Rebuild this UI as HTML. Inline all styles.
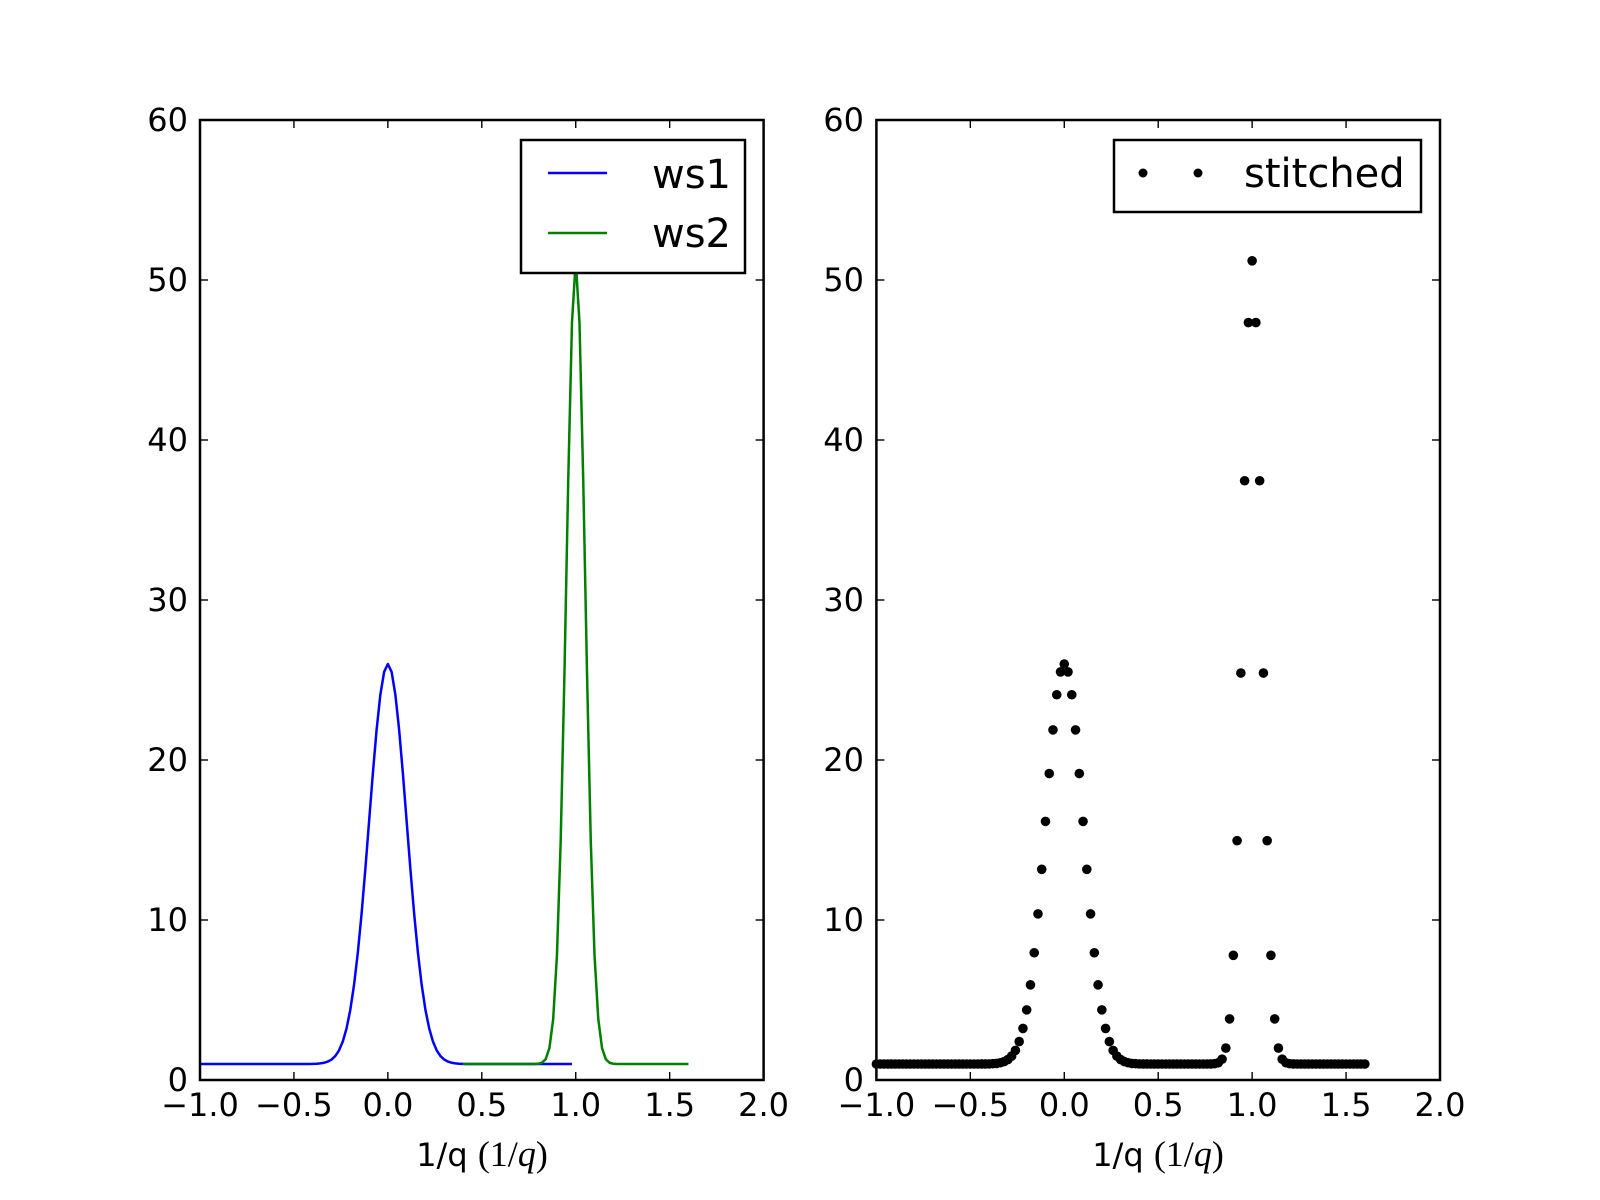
<!DOCTYPE html>
<html><head><meta charset="utf-8"><style>
html,body{margin:0;padding:0;background:#fff;}
svg{display:block;font-family:"DejaVu Sans","Liberation Sans",sans-serif;}
.t{font-size:32px;fill:#000;}
.l{font-size:40px;fill:#000;}
</style></head><body>
<svg id="s" width="1600" height="1200" viewBox="0 0 1600 1200" xmlns="http://www.w3.org/2000/svg">
<rect width="1600" height="1200" fill="#fff"/>
<g id="plots"></g>
<rect x="200" y="120" width="563.6" height="960" fill="none" stroke="#000" stroke-width="2.5"/>
<rect x="876.4" y="120" width="563.6" height="960" fill="none" stroke="#000" stroke-width="2.5"/>
<g id="ticks" stroke="#000" stroke-width="1.4"></g>
<g class="t" text-anchor="end">
<text x="188" y="1091">0</text><text x="188" y="931">10</text><text x="188" y="771">20</text><text x="188" y="611">30</text><text x="188" y="451">40</text><text x="188" y="291">50</text><text x="188" y="131">60</text>
<text x="864" y="1091">0</text><text x="864" y="931">10</text><text x="864" y="771">20</text><text x="864" y="611">30</text><text x="864" y="451">40</text><text x="864" y="291">50</text><text x="864" y="131">60</text>
</g>
<g class="t" text-anchor="middle">
<text x="200" y="1116">−1.0</text><text x="293.9" y="1116">−0.5</text><text x="387.9" y="1116">0.0</text><text x="481.8" y="1116">0.5</text><text x="575.7" y="1116">1.0</text><text x="669.7" y="1116">1.5</text><text x="763.6" y="1116">2.0</text>
<text x="876.4" y="1116">−1.0</text><text x="970.3" y="1116">−0.5</text><text x="1064.3" y="1116">0.0</text><text x="1158.2" y="1116">0.5</text><text x="1252.1" y="1116">1.0</text><text x="1346.1" y="1116">1.5</text><text x="1440" y="1116">2.0</text>
<text x="482" y="1166">1/q <tspan font-family="'Liberation Serif',serif" font-size="36">(1/<tspan font-style="italic">q</tspan>)</tspan></text>
<text x="1158" y="1166">1/q <tspan font-family="'Liberation Serif',serif" font-size="36">(1/<tspan font-style="italic">q</tspan>)</tspan></text>
</g>
<rect x="521" y="140" width="224" height="133" fill="#fff" stroke="#000" stroke-width="2.5"/>
<line x1="548" y1="173" x2="607" y2="173" stroke="#0000ff" stroke-width="2.5"/>
<line x1="548" y1="233" x2="607" y2="233" stroke="#008000" stroke-width="2.5"/>
<text class="l" x="652" y="188">ws1</text>
<text class="l" x="652" y="247">ws2</text>
<rect x="1114" y="140" width="307" height="72" fill="#fff" stroke="#000" stroke-width="2.5"/>
<circle cx="1143" cy="173" r="4.5" fill="#000"/>
<circle cx="1198" cy="173" r="4.5" fill="#000"/>
<text class="l" x="1244" y="187">stitched</text>
</svg>
<script>
(function(){
var NS="http://www.w3.org/2000/svg";
var g=document.getElementById('plots'),tk=document.getElementById('ticks');
var sx=563.6/3, sy=16;
function X(x,o){return o+(x+1)*sx;} function Y(y){return 1080-y*sy;}
function f1(x){return 1+25*Math.exp(-x*x/(2*0.01));}
function f2(x){var d=x-1;return 1+50.2*Math.exp(-d*d/(2*0.0025));}
function path(a,b,f,col){var d='';for(var i=0;;i++){var x=a+i*0.02;if(x>b+1e-9)break;d+=(i?'L':'M')+X(x,200).toFixed(2)+','+Y(f(x)).toFixed(2);}
var p=document.createElementNS(NS,'path');p.setAttribute('d',d);p.setAttribute('fill','none');p.setAttribute('stroke',col);p.setAttribute('stroke-width','2.5');p.setAttribute('stroke-linejoin','round');g.appendChild(p);}
path(-1,0.98,f1,'#0000ff');path(0.4,1.6,f2,'#008000');
for(var i=0;i<=130;i++){var x=-1+i*0.02;var y=x<0.7?f1(x):(x<=0.98?Math.max(f1(x),f2(x)):f2(x));
var c=document.createElementNS(NS,'circle');c.setAttribute('cx',X(x,876.4).toFixed(2));c.setAttribute('cy',Y(y).toFixed(2));c.setAttribute('r','4.8');c.setAttribute('fill','#000');g.appendChild(c);}
function ln(a,b,c,d){var l=document.createElementNS(NS,'line');l.setAttribute('x1',a);l.setAttribute('y1',b);l.setAttribute('x2',c);l.setAttribute('y2',d);tk.appendChild(l);}
[200,876.4].forEach(function(o){
 for(var k=0;k<=6;k++){var x=o+k*sx/2;ln(x,1080,x,1072);ln(x,120,x,128);}
 for(var k=0;k<=6;k++){var y=1080-k*160;ln(o,y,o+8,y);ln(o+563.6,y,o+555.6,y);}
});
})();
</script>
</body></html>
